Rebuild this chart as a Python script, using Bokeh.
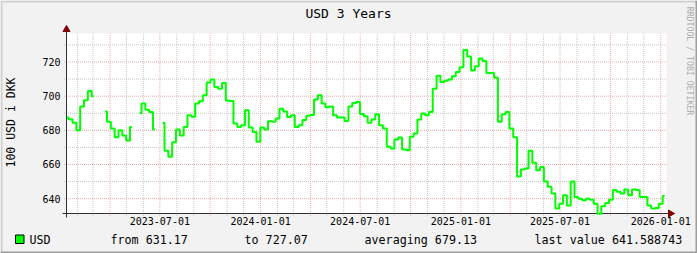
import math
import pandas as pd
from bokeh.plotting import figure
from bokeh.models import Range1d, Label, BoxAnnotation
from bokeh.core.properties import value
from bokeh.embed import file_html
from bokeh.resources import INLINE

nan = float("nan")

# ---------------- data ----------------
title_text = "USD 3 Years"
unit_label = "100 USD i DKK"
series_name = "USD"
watermark_text = "RRDTOOL / TOBI OETIKER"
stat_labels = ["from 631.17", "to 727.07", "averaging 679.13", "last value 641.588743"]

first_date = "2023-01-12"
step_days = 7
usd_dkk = [
    687.5, 686.5, 684.4, 680.0, 694.0, 697.6, 703.0, 700.0, nan, nan,
    691.0, 685.0, 681.0, 676.0, 680.0, 677.0, 674.0, 682.0, nan, 690.0,
    695.7, 692.0, 690.8, 680.5, nan, 684.4, 668.0, 664.5, 673.0, 680.5,
    677.0, 682.0, 688.8, 688.0, 695.7, 697.0, 700.5, 708.0, 709.7, 705.4,
    704.4, 707.7, 697.5, 697.2, 684.0, 682.0, 683.0, 691.8, 681.6, 679.0,
    673.3, 681.6, 680.5, 685.3, 685.0, 687.0, 692.7, 691.0, 687.8, 688.8,
    682.0, 683.0, 686.0, 688.5, 689.0, 698.0, 700.5, 695.7, 693.5, 694.0,
    688.8, 687.5, 687.5, 685.5, 694.0, 696.0, 696.6, 689.5, 688.3, 684.4,
    686.3, 689.4, 683.0, 681.0, 670.4, 669.4, 674.6, 675.8, 668.8, 668.4,
    676.2, 678.1, 686.3, 689.8, 688.8, 690.8, 704.4, 712.0, 708.3, 709.0,
    709.7, 711.6, 714.2, 717.0, 727.07, 723.3, 715.1, 717.5, 722.0, 720.6,
    713.6, 713.6, 710.8, 685.0, 689.4, 690.8, 681.0, 676.0, 653.0, 657.0,
    657.6, 668.0, 661.0, 656.6, 658.5, 650.0, 647.0, 643.0, 634.2, 637.0,
    642.0, 636.0, 650.0, 641.0, 640.0, 639.0, 640.0, 639.4, 637.0, 631.17,
    635.5, 637.5, 639.4, 645.0, 644.0, 643.0, 645.3, 642.0, 645.3, 645.0,
    641.0, 641.0, 636.0, 634.2, 634.5, 637.0, 641.588743,
]

x_tick_dates = ["2023-07-01", "2024-01-01", "2024-07-01", "2025-01-01", "2025-07-01", "2026-01-01"]
y_major_ticks = [640, 660, 680, 700, 720]
y_minor_ticks = [650, 670, 690, 710, 730]
view_start = "2023-01-11 12:00"
view_days = 1096
y_lo, y_hi = 631.3, 736.7

# ---------------- layout (canvas pixels) ----------------
W, H = 697, 253
CL, CR, CT, CB = 66, 666, 33, 213   # white canvas area

DAY = 86400000.0


def ms(t):
    return pd.Timestamp(t).value / 1e6


x0 = ms(view_start)
x1 = x0 + view_days * DAY
xpp = (x1 - x0) / (CR - CL)          # ms per pixel
ypp = (y_hi - y_lo) / (CB - CT)      # value per pixel
xr = Range1d(x0 - CL * xpp, x1 + (W - CR) * xpp)
yr = Range1d(y_lo - (H - CB) * ypp, y_hi + CT * ypp)


def sx(cx):
    return cx


def sy(cy):
    return H - cy


dates = pd.date_range(first_date, periods=len(usd_dkk), freq=f"{step_days}D")
months = pd.date_range("2023-02-01", "2026-01-01", freq="MS")
quarter_months = [ms(m) for m in months if m.month in (1, 4, 7, 10)]
other_months = [ms(m) for m in months if m.month not in (1, 4, 7, 10)]

p = figure(width=W, height=H, x_range=xr, y_range=yr,
           output_backend="svg", toolbar_location=None, title=None,
           x_axis_location=None, y_axis_location=None, min_border=0,
           background_fill_color="#F2F2F2", border_fill_color="#F2F2F2",
           outline_line_color=None)
p.grid.visible = False

# white canvas
p.quad(left=[x0], right=[x1], bottom=[y_lo], top=[y_hi], fill_color="#FFFFFF",
       line_color=None, level="image")

minor_col, major_col = "#C6C6C6", "#ECAAAA"
ext = 2.5  # grid lines poke out of the axes like ticks
p.segment(x0=other_months, x1=other_months, y0=[y_lo - ext * ypp] * len(other_months),
          y1=[y_hi] * len(other_months), line_color=minor_col, line_dash="1 1", line_width=1)
p.segment(x0=[x0 - ext * xpp] * len(y_minor_ticks), x1=[x1] * len(y_minor_ticks),
          y0=y_minor_ticks, y1=y_minor_ticks, line_color=minor_col, line_dash="1 1", line_width=1)
p.segment(x0=quarter_months, x1=quarter_months, y0=[y_lo - ext * ypp] * len(quarter_months),
          y1=[y_hi] * len(quarter_months), line_color=major_col, line_dash="1 1", line_width=1)
p.segment(x0=[x0 - ext * xpp] * len(y_major_ticks), x1=[x1] * len(y_major_ticks),
          y0=y_major_ticks, y1=y_major_ticks, line_color=major_col, line_dash="1 1", line_width=1)

# axes
axis_col = "#303030"
p.segment(x0=[x0 - 4 * xpp], x1=[x1 + 4 * xpp], y0=[y_lo], y1=[y_lo], line_color=axis_col, line_width=1)
p.segment(x0=[x0], x1=[x0], y0=[y_lo - 4 * ypp], y1=[y_hi + 4 * ypp], line_color=axis_col, line_width=1)
p.scatter(x=[x1 + 4 * xpp], y=[y_lo], marker="triangle", size=7, angle=-math.pi / 2,
          fill_color="#800000", line_color="#800000")
p.scatter(x=[x0], y=[y_hi + 4 * ypp], marker="triangle", size=7, angle=0,
          fill_color="#800000", line_color="#800000")

# data line
p.step(x=dates, y=usd_dkk, mode="center", line_color="#00FF00", line_width=2)

mono = "DejaVu Sans Mono"
# tick labels
p.text(x=[ms(d) for d in x_tick_dates], y=[y_lo] * len(x_tick_dates), text=x_tick_dates,
       y_offset=3, text_align="center", text_baseline="top", text_font=value(mono),
       text_font_size="10px", text_color="#000000")
p.text(x=[x0] * len(y_major_ticks), y=y_major_ticks, text=[str(v) for v in y_major_ticks],
       x_offset=-6, text_align="right", text_baseline="middle", text_font=value(mono),
       text_font_size="10px", text_color="#000000")

p.add_layout(Label(x=sx(348), y=sy(13), x_units="screen", y_units="screen", text=title_text,
                   text_align="center", text_baseline="middle", text_font=mono,
                   text_font_size="13px", text_color="#000000"))
p.add_layout(Label(x=sx(10.5), y=sy(122), x_units="screen", y_units="screen", text=unit_label,
                   angle=math.pi / 2, text_align="center", text_baseline="middle",
                   text_font=mono, text_font_size="11.5px", text_color="#000000"))
p.add_layout(Label(x=sx(689), y=sy(60.5), x_units="screen", y_units="screen", text=watermark_text,
                   angle=-math.pi / 2, text_align="center", text_baseline="middle",
                   text_font=mono, text_font_size="8.2px", text_color="#ABABAB"))

legend_y = sy(239)
p.add_layout(BoxAnnotation(left=sx(15), right=sx(23.5), top=sy(234.5), bottom=sy(243),
                           left_units="screen", right_units="screen", top_units="screen",
                           bottom_units="screen", fill_color="#00FF00", fill_alpha=1.0,
                           line_color="#000000", line_width=1, line_alpha=1.0))
legend_x = [29, 110, 244, 364, 534]
for lx, txt in zip(legend_x, [series_name] + stat_labels):
    p.add_layout(Label(x=sx(lx), y=legend_y, x_units="screen", y_units="screen", text=txt,
                       text_align="left", text_baseline="middle", text_font=mono,
                       text_font_size="11.7px", text_color="#000000"))

# 3D border of the image
shade = [
    (0, W, 0, 2, "#CFCFCF"),
    (0, 2, 0, H, "#CFCFCF"),
    (0, W, H - 2, H, "#9E9E9E"),
    (W - 2, W, 0, H, "#9E9E9E"),
]
for l, r, t, b, c in shade:
    p.add_layout(BoxAnnotation(left=sx(l), right=sx(r), top=sy(t), bottom=sy(b),
                               left_units="screen", right_units="screen", top_units="screen",
                               bottom_units="screen", fill_color=c, fill_alpha=1.0,
                               line_color=None))

open("out.html", "w").write(file_html(p, INLINE))
